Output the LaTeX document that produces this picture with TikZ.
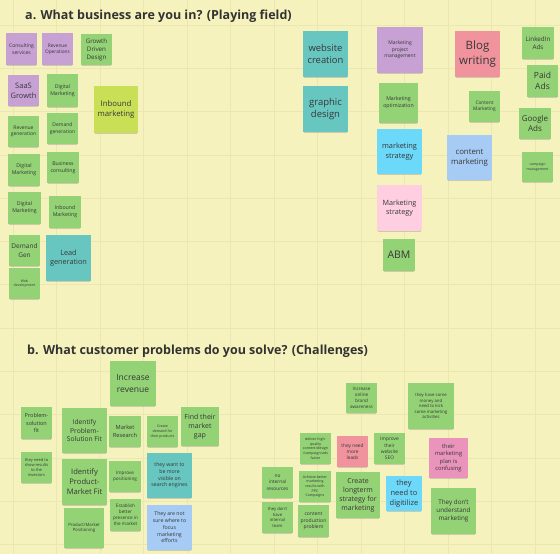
\documentclass[tikz,border=0pt]{standalone}
\usepackage{fontspec}
\setmainfont{Open Sans}
\usepackage{tikz}
\usetikzlibrary{shadows}
\definecolor{boardbg}{RGB}{245,242,190}
\definecolor{boardgrid}{RGB}{236,231,176}
\definecolor{titletext}{RGB}{50,50,50}
\definecolor{notetext}{RGB}{55,55,55}
\definecolor{notegreen}{HTML}{93D275}
\definecolor{notelime}{HTML}{C9DF56}
\definecolor{noteteal}{HTML}{67C6C0}
\definecolor{notelightblue}{HTML}{A6CCF5}
\definecolor{noteblue}{HTML}{6CD8FA}
\definecolor{notepurple}{RGB}{199,160,212}
\definecolor{notelightpink}{HTML}{FFCEE0}
\definecolor{notepink}{HTML}{EA94BB}
\definecolor{notered}{HTML}{F0939D}
\newcommand{\nf}[1]{\fontsize{#1}{#1}\selectfont\baselineskip=1.3\baselineskip}
\tikzset{
  note/.style={rectangle, fill=#1, inner sep=1pt, align=center, text=notetext,
    drop shadow={shadow xshift=0pt, shadow yshift=-2pt, shadow scale=.96, opacity=.35}},
  sz/.style 2 args={minimum width=#1pt, minimum height=#2pt},
  heading/.style={anchor=west, inner sep=0pt, text=titletext, font=\fontsize{12.5}{15}\selectfont\bfseries}
}

\begin{document}
\begin{tikzpicture}[x=1pt, y=-1pt]
  \useasboundingbox (0,0) rectangle (560,554);
  \fill[boardbg] (0,0) rectangle (560,554);
  \foreach \gx in {0,...,12} \draw[boardgrid, line width=.8pt] (13+43.5*\gx,0) -- (13+43.5*\gx,554);
  \foreach \gy in {0,...,12} \draw[boardgrid, line width=.8pt] (0,25+43.3*\gy) -- (560,25+43.3*\gy);

  \node[heading] (titleA) at (25,16) {a. What business are you in? (Playing field)};
  \node[note=notepurple, sz={31}{32}, font=\nf{5}] (consult) at (21.5,49) {Consulting\\services};
  \node[note=notepurple, sz={31}{32}, font=\nf{4.8}] (revops) at (57.5,49) {Revenue\\Operations};
  \node[note=notegreen, sz={31}{31}, font=\nf{6.2}] (gdd) at (96.5,49.5) {Growth\\Driven\\Design};
  \node[note=notepurple, sz={31}{31}, font=\nf{7.5}] (saas) at (23.5,90.5) {SaaS\\Growth};
  \node[note=notegreen, sz={31}{33}, font=\nf{5.2}] (digmktA) at (62.5,90.5) {Digital\\Marketing};
  \node[note=notelime, sz={44}{47}, font=\nf{7.8}] (inbound) at (116,109.5) {Inbound\\marketing};
  \node[note=notegreen, sz={31}{31}, font=\nf{5}] (revgen) at (23.5,131.5) {Revenue\\generation};
  \node[note=notegreen, sz={31}{31}, font=\nf{5}] (demgen) at (62.5,128.5) {Demand\\generation};
  \node[note=notegreen, sz={32}{32}, font=\nf{5.2}] (digmktB) at (24,170) {Digital\\Marketing};
  \node[note=notegreen, sz={32}{31}, font=\nf{5.2}] (buscons) at (63,167.5) {Business\\consulting};
  \node[note=notegreen, sz={33}{32}, font=\nf{5.2}] (digmktC) at (24.5,208) {Digital\\Marketing};
  \node[note=notegreen, sz={32}{32}, font=\nf{5.2}] (inbmkt) at (65,212) {Inbound\\Marketing};
  \node[note=notegreen, sz={31}{31}, font=\nf{6.5}] (demandgen) at (24.5,250.5) {Demand\\Gen};
  \node[note=noteteal, sz={45}{46}, font=\nf{7.3}] (leadgen) at (68.5,258) {Lead\\generation};
  \node[note=notegreen, sz={31}{31}, font=\nf{3.5}] (webdev) at (24.5,283.5) {Web\\development};

  \node[note=noteteal, sz={45}{46}, font=\nf{9.4}] (website) at (325.5,54) {website\\creation};
  \node[note=noteteal, sz={45}{46}, font=\nf{9.5}] (graphic) at (325.5,109) {graphic\\design};
  \node[note=notepurple, sz={46}{46}, font=\nf{5}] (mpm) at (400,50) {Marketing\\project\\management};
  \node[note=notegreen, sz={39}{40}, font=\nf{5.2}] (mopt) at (398.5,103) {Marketing\\optimization};
  \node[note=noteblue, sz={45}{45}, font=\nf{7.4}] (mstrat) at (399.5,151.5) {marketing\\strategy};
  \node[note=notelightpink, sz={45}{46}, font=\nf{7.2}] (mstratpink) at (399.5,208) {Marketing\\strategy};
  \node[note=notegreen, sz={32}{32}, font=\nf{10.5}] (abm) at (399,255) {ABM};
  \node[note=notered, sz={45}{46}, font=\nf{11.5}] (blog) at (477.5,54) {Blog\\writing};
  \node[note=notegreen, sz={31}{31}, font=\nf{4.8}] (contmkt) at (484.5,106.5) {Content\\Marketing};
  \node[note=notelightblue, sz={45}{45}, font=\nf{7.8}] (contentmkt) at (469.5,157.5) {content\\marketing};
  \node[note=notegreen, sz={32}{32}, font=\nf{6.3}] (linkedin) at (538,43) {LinkedIn\\Ads};
  \node[note=notegreen, sz={31}{32}, font=\nf{8.5}] (paid) at (542.5,81) {Paid\\Ads};
  \node[note=notegreen, sz={32}{31}, font=\nf{8}] (google) at (535,123.5) {Google\\Ads};
  \node[note=notegreen, sz={31}{30}, font=\nf{3.5}] (campaign) at (537.5,167) {campaign\\management};

  \node[heading] (titleB) at (27,351) {b. What customer problems do you solve? (Challenges)};
  \node[note=notegreen, sz={46}{45}, font=\nf{8.5}] (incrrev) at (133,383.5) {Increase\\revenue};
  \node[note=notegreen, sz={31}{32}, font=\nf{5.5}] (psfit) at (36.5,423) {Problem-\\solution\\fit};
  \node[note=notegreen, sz={45}{45}, font=\nf{6.7}] (idpsf) at (84.5,430.5) {Identify\\Problem-\\Solution Fit};
  \node[note=notegreen, sz={32}{31}, font=\nf{5.7}] (mktres) at (125,431.5) {Market\\Research};
  \node[note=notegreen, sz={31}{31}, font=\nf{3.6}] (createdem) at (162.5,431.5) {Create\\demand for\\their products};
  \node[note=notegreen, sz={38}{39}, font=\nf{7}] (findgap) at (200,426.5) {Find their\\market\\gap};
  \node[note=notegreen, sz={31}{31}, font=\nf{4}] (showres) at (36.5,467.5) {they need to\\show results\\to the\\investors};
  \node[note=notegreen, sz={45}{46}, font=\nf{7.6}] (idpmf) at (84.5,482) {Identify\\Product-\\Market Fit};
  \node[note=notegreen, sz={32}{31}, font=\nf{4.6}] (improvepos) at (125,476.5) {Improve\\positioning};
  \node[note=noteteal, sz={45}{45}, font=\nf{5.2}] (visible) at (169.5,475.5) {they want to\\be more\\visible on\\search engines};
  \node[note=notegreen, sz={40}{40}, font=\nf{4.3}] (pmpos) at (84,528) {Product/Market\\Positioning};
  \node[note=notegreen, sz={31}{32}, font=\nf{4.6}] (presence) at (125.5,515) {Establish\\better\\presence in\\the market};
  \node[note=notelightblue, sz={45}{45}, font=\nf{5.2}] (notsure) at (169.5,527.5) {They are not\\sure where to\\focus\\marketing\\efforts};

  \node[note=notegreen, sz={31}{30}, font=\nf{4.6}] (brand) at (361.5,398) {Increase\\online\\brand\\awareness};
  \node[note=notegreen, sz={46}{46}, font=\nf{4.3}] (money) at (431,406) {they have some\\money and\\need to kick\\some marketing\\activities};
  \node[note=notegreen, sz={31}{31}, font=\nf{3.6}] (deliver) at (315.5,448.5) {deliver high-\\quality\\content/design\\/campaign/ads\\faster};
  \node[note=notered, sz={31}{31}, font=\nf{4.8}] (leads) at (352.5,451.5) {they need\\more\\leads};
  \node[note=notegreen, sz={31}{31}, font=\nf{4.8}] (seo) at (389.5,448.5) {Improve\\their\\website\\SEO};
  \node[note=notepink, sz={39}{40}, font=\nf{5.8}] (confusing) at (448.5,458) {their\\marketing\\plan is\\confusing};
  \node[note=notegreen, sz={31}{31}, font=\nf{4.8}] (noresources) at (277.5,482.5) {no\\internal\\resources};
  \node[note=notegreen, sz={32}{31}, font=\nf{3.6}] (ppc) at (315,486.5) {Achieve better\\marketing\\results with\\PPC\\Campaigns};
  \node[note=notegreen, sz={44}{46}, font=\nf{7}] (longterm) at (358,495) {Create\\longterm\\strategy for\\marketing};
  \node[note=noteblue, sz={36}{35}, font=\nf{7.5}] (digitilize) at (404,493.5) {they\\need to\\digitilize};
  \node[note=notegreen, sz={31}{31}, font=\nf{4.2}] (noteam) at (277.5,517.5) {they don't\\have\\internal\\team};
  \node[note=notegreen, sz={31}{32}, font=\nf{5}] (contprod) at (313.5,521) {content\\production\\problem};
  \node[note=notegreen, sz={45}{46}, font=\nf{6.3}] (dontknow) at (453.5,511) {They don't\\understand\\marketing};
\end{tikzpicture}
\end{document}
